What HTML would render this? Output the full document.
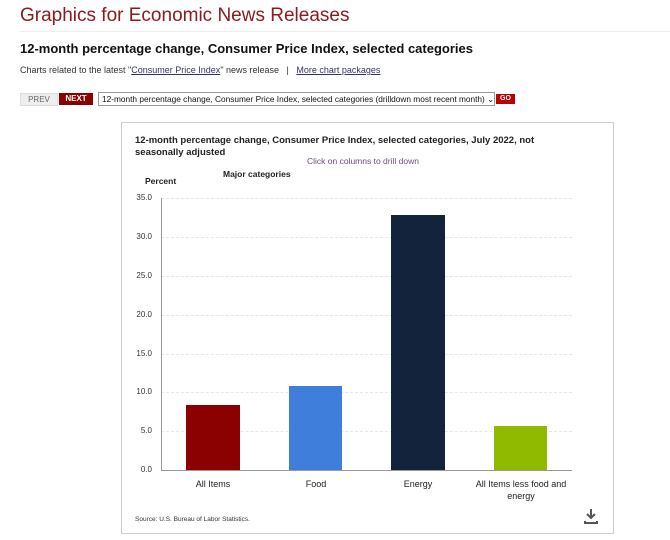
<!DOCTYPE html>
<html><head><style>
body{margin:0;width:670px;height:540px;background:#fff;font-family:"Liberation Sans",Arial,sans-serif;position:relative;overflow:hidden}
.a{position:absolute;white-space:nowrap}
.grid{position:absolute;left:161px;width:411px;border-top:1px dashed #e6e6e6;height:0}
.yl{position:absolute;left:128px;width:24px;text-align:right;font-size:8px;color:#333}
.bar{position:absolute;bottom:70px}
.xl{position:absolute;font-size:9px;color:#222;text-align:center;width:110px;line-height:12px}
</style></head><body>
<div class="a" style="left:20px;top:5px;font-size:19px;color:#8b1a1a">Graphics for Economic News Releases</div>
<div style="position:absolute;left:20px;top:31px;width:650px;border-top:1px solid #eee"></div>
<div class="a" style="left:20px;top:41px;font-size:13px;font-weight:bold;color:#111">12-month percentage change, Consumer Price Index, selected categories</div>
<div class="a" style="left:20px;top:65px;font-size:9px;color:#333">Charts related to the latest "<span style="color:#336;text-decoration:underline">Consumer Price Index</span>" news release &nbsp; | &nbsp; <span style="color:#336;text-decoration:underline">More chart packages</span></div>
<div class="a" style="left:20px;top:93px;width:36px;height:11px;background:#eee;border:1px solid #ddd;font-size:8px;color:#666;text-align:center;line-height:11px">PREV</div>
<div class="a" style="left:59px;top:93px;width:34px;height:12px;background:#8b0000;font-size:8px;color:#fff;font-weight:bold;text-align:center;line-height:12px">NEXT</div>
<div class="a" style="left:98px;top:92px;width:392px;height:12px;border:1px solid #999;font-size:8.3px;color:#111;line-height:12px;padding-left:3px;box-sizing:content-box">12-month percentage change, Consumer Price Index, selected categories (drilldown most recent month) ⌄</div>
<div class="a" style="left:496px;top:94px;width:19px;height:10px;background:#b00;color:#fff;font-size:7px;font-weight:bold;text-align:center;line-height:10px">GO</div>
<div style="position:absolute;left:121px;top:122px;width:491px;height:410px;border:1px solid #ccc"></div>
<div class="a" style="left:135px;top:135px;font-size:9.5px;font-weight:bold;color:#222;line-height:12px">12-month percentage change, Consumer Price Index, selected categories, July 2022, not<br>seasonally adjusted</div>
<div class="a" style="left:307px;top:156px;font-size:8.5px;color:#6a4f7a">Click on columns to drill down</div>
<div class="a" style="left:223px;top:169px;font-size:8.5px;font-weight:bold;color:#222">Major categories</div>
<div class="a" style="left:145px;top:176px;font-size:8.5px;font-weight:bold;color:#222">Percent</div>
<div class="grid" style="top:198px"></div><div class="grid" style="top:237px"></div><div class="grid" style="top:276px"></div><div class="grid" style="top:315px"></div><div class="grid" style="top:354px"></div><div class="grid" style="top:392px"></div><div class="grid" style="top:431px"></div>
<div class="yl" style="top:193px">35.0</div><div class="yl" style="top:232px">30.0</div><div class="yl" style="top:271px">25.0</div><div class="yl" style="top:310px">20.0</div><div class="yl" style="top:349px">15.0</div><div class="yl" style="top:387px">10.0</div><div class="yl" style="top:426px">5.0</div><div class="yl" style="top:465px">0.0</div>
<div style="position:absolute;left:161px;top:198px;height:272px;border-left:1px solid #999"></div>
<div style="position:absolute;left:161px;top:470px;width:411px;border-top:1px solid #999"></div>
<div class="bar" style="left:186px;width:54px;top:405px;height:65px;background:#8b0000"></div>
<div class="bar" style="left:289px;width:53px;top:386px;height:84px;background:#3f7fdb"></div>
<div class="bar" style="left:391px;width:54px;top:215px;height:255px;background:#14233c"></div>
<div class="bar" style="left:494px;width:53px;top:426px;height:44px;background:#8fba00"></div>
<div class="xl" style="left:158px;top:478px">All Items</div>
<div class="xl" style="left:261px;top:478px">Food</div>
<div class="xl" style="left:363px;top:478px">Energy</div>
<div class="xl" style="left:466px;top:478px">All Items less food and<br>energy</div>
<div class="a" style="left:135px;top:516px;font-size:6.5px;color:#333">Source: U.S. Bureau of Labor Statistics.</div>
<svg style="position:absolute;left:583px;top:508px" width="16" height="16"><path d="M8 1v9M4 6l4 4 4-4M2 13v2h12v-2" stroke="#555" stroke-width="2" fill="none"/></svg>
</body></html>
